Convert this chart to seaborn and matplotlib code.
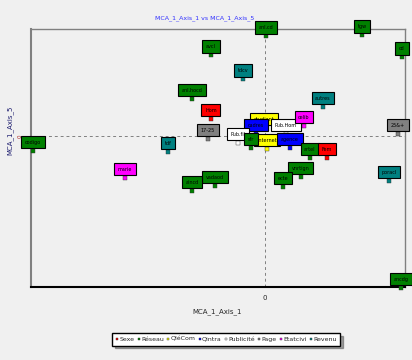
import pandas as pd
import numpy as np
import seaborn as sns
import matplotlib.pyplot as plt

# MCA coordinates (axis 1 vs axis 5)
labels = ['anl.cd', 'tgw', 'cd', 'avcl', 'tdcv', 'anl.hocd', 'Hom', 'autres', '17-25',
          'etudiant', 'cadres', 'Pub.Hom', 'celib', '25&+', 'Pub.fil', 'internet', 'agence',
          'artel', 'Fem', 'sfr', 'vnrtign', 'ecte', 'vadaod', 'aincd', 'poracl',
          'codigo', 'tdf', 'marie', 'ancdg']
axis1 = [0.01, 0.97, 1.37, -0.54, -0.22, -0.73, -0.54, 0.58, -0.57,
         -0.01, -0.09, 0.21, 0.39, 1.33, -0.27, 0.02, 0.25,
         0.45, 0.62, -0.14, 0.36, 0.18, -0.50, -0.73, 1.24,
         -2.32, -0.97, -1.40, 1.36]
axis5 = [1.00, 1.01, 0.79, 0.81, 0.57, 0.37, 0.17, 0.29, -0.03,
         0.08, 0.02, 0.02, 0.10, 0.02, -0.07, -0.13, -0.12,
         -0.22, -0.22, -0.12, -0.41, -0.51, -0.50, -0.55, -0.45,
         -0.15, -0.16, -0.42, -1.52]
variable = ['Réseau', 'Réseau', 'Réseau', 'Réseau', 'Revenu', 'Réseau', 'Sexe', 'Revenu', 'Page',
            'QléCom', 'Qintra', 'Publicité', 'Etatcivi', 'Page', 'Publicité', 'QléCom', 'Qintra',
            'Réseau', 'Sexe', 'Réseau', 'Réseau', 'Réseau', 'Réseau', 'Réseau', 'Revenu',
            'Réseau', 'Revenu', 'Etatcivi', 'Réseau']

var_order = ['Sexe', 'Réseau', 'QléCom', 'Qintra', 'Publicité', 'Page', 'Etatcivi', 'Revenu']
var_colors = ['#ff0000', '#008000', '#ffff00', '#0000ff', '#ffffff', '#808080', '#ff00ff', '#008080']
palette = dict(zip(var_order, var_colors))

df = pd.DataFrame({'label': labels, 'Axis_1': axis1, 'Axis_5': axis5, 'var': variable})

sns.set_style('white')
plt.rcParams['font.family'] = ['Liberation Sans Narrow', 'DejaVu Sans']

fig = plt.figure(figsize=(4.12, 3.6), dpi=100, facecolor='#f0f0f0')
ax = fig.add_axes([0.075, 0.203, 0.908, 0.716])
ax.set_facecolor('#f0f0f0')

ax.axhline(0, ls=(0, (3, 3)), color='#808080', lw=0.7, zorder=0)
ax.axvline(0, ls=(0, (3, 3)), color='#808080', lw=0.7, zorder=0)

sns.scatterplot(data=df, x='Axis_1', y='Axis_5', hue='var', hue_order=var_order,
                palette=palette, marker='s', s=6, edgecolor='#333333', linewidth=0.3,
                ax=ax, zorder=3, clip_on=False)

for _, r in df.iterrows():
    ax.annotate(r['label'], (r['Axis_1'], r['Axis_5']), xytext=(0, 6.3),
                textcoords='offset points', ha='center', va='center', fontsize=3.5,
                color='black', zorder=4, annotation_clip=False,
                bbox=dict(boxstyle='square,pad=0.75', fc=palette[r['var']], ec='black', lw=0.8))

ax.set_xlim(-2.34, 1.40)
ax.set_ylim(-1.51, 1.07)
ax.set_xticks([0])
ax.set_xticklabels(['0'], fontsize=5)
ax.set_yticks([0])
ax.set_yticklabels(['0'], fontsize=4, rotation=90, color='#aa2222')
ax.tick_params(length=0, pad=6)
ax.set_xlabel('')
ax.set_ylabel('')

for side in ['left', 'right', 'top']:
    ax.spines[side].set_color('#808080')
ax.spines['left'].set_linewidth(1.5)
ax.spines['right'].set_linewidth(1.0)
ax.spines['top'].set_linewidth(1.0)
ax.spines['bottom'].set_color('black')
ax.spines['bottom'].set_linewidth(1.5)

fig.text(205 / 412, 1 - 18 / 360, 'MCA_1_Axis_1 vs MCA_1_Axis_5', color='#3030ff',
         fontsize=4.5, ha='center', va='center')
fig.text(217 / 412, 1 - 312 / 360, 'MCA_1_Axis_1', fontsize=5, ha='center', va='center')
fig.text(10 / 412, 1 - 130 / 360, 'MCA_1_Axis_5', fontsize=5, rotation=90, color='#1a1a6e',
         ha='center', va='center')

sns.move_legend(ax, 'center', bbox_to_anchor=(0.522, -0.203), ncol=8, title=None,
                fontsize=4.5, frameon=True, fancybox=False, shadow=True, edgecolor='black',
                handletextpad=0.1, columnspacing=0.45, borderpad=0.6, markerscale=0.8,
                handlelength=0.5)
ax.get_legend().get_frame().set_facecolor('white')

fig.savefig('out.png', dpi=100, facecolor=fig.get_facecolor())
